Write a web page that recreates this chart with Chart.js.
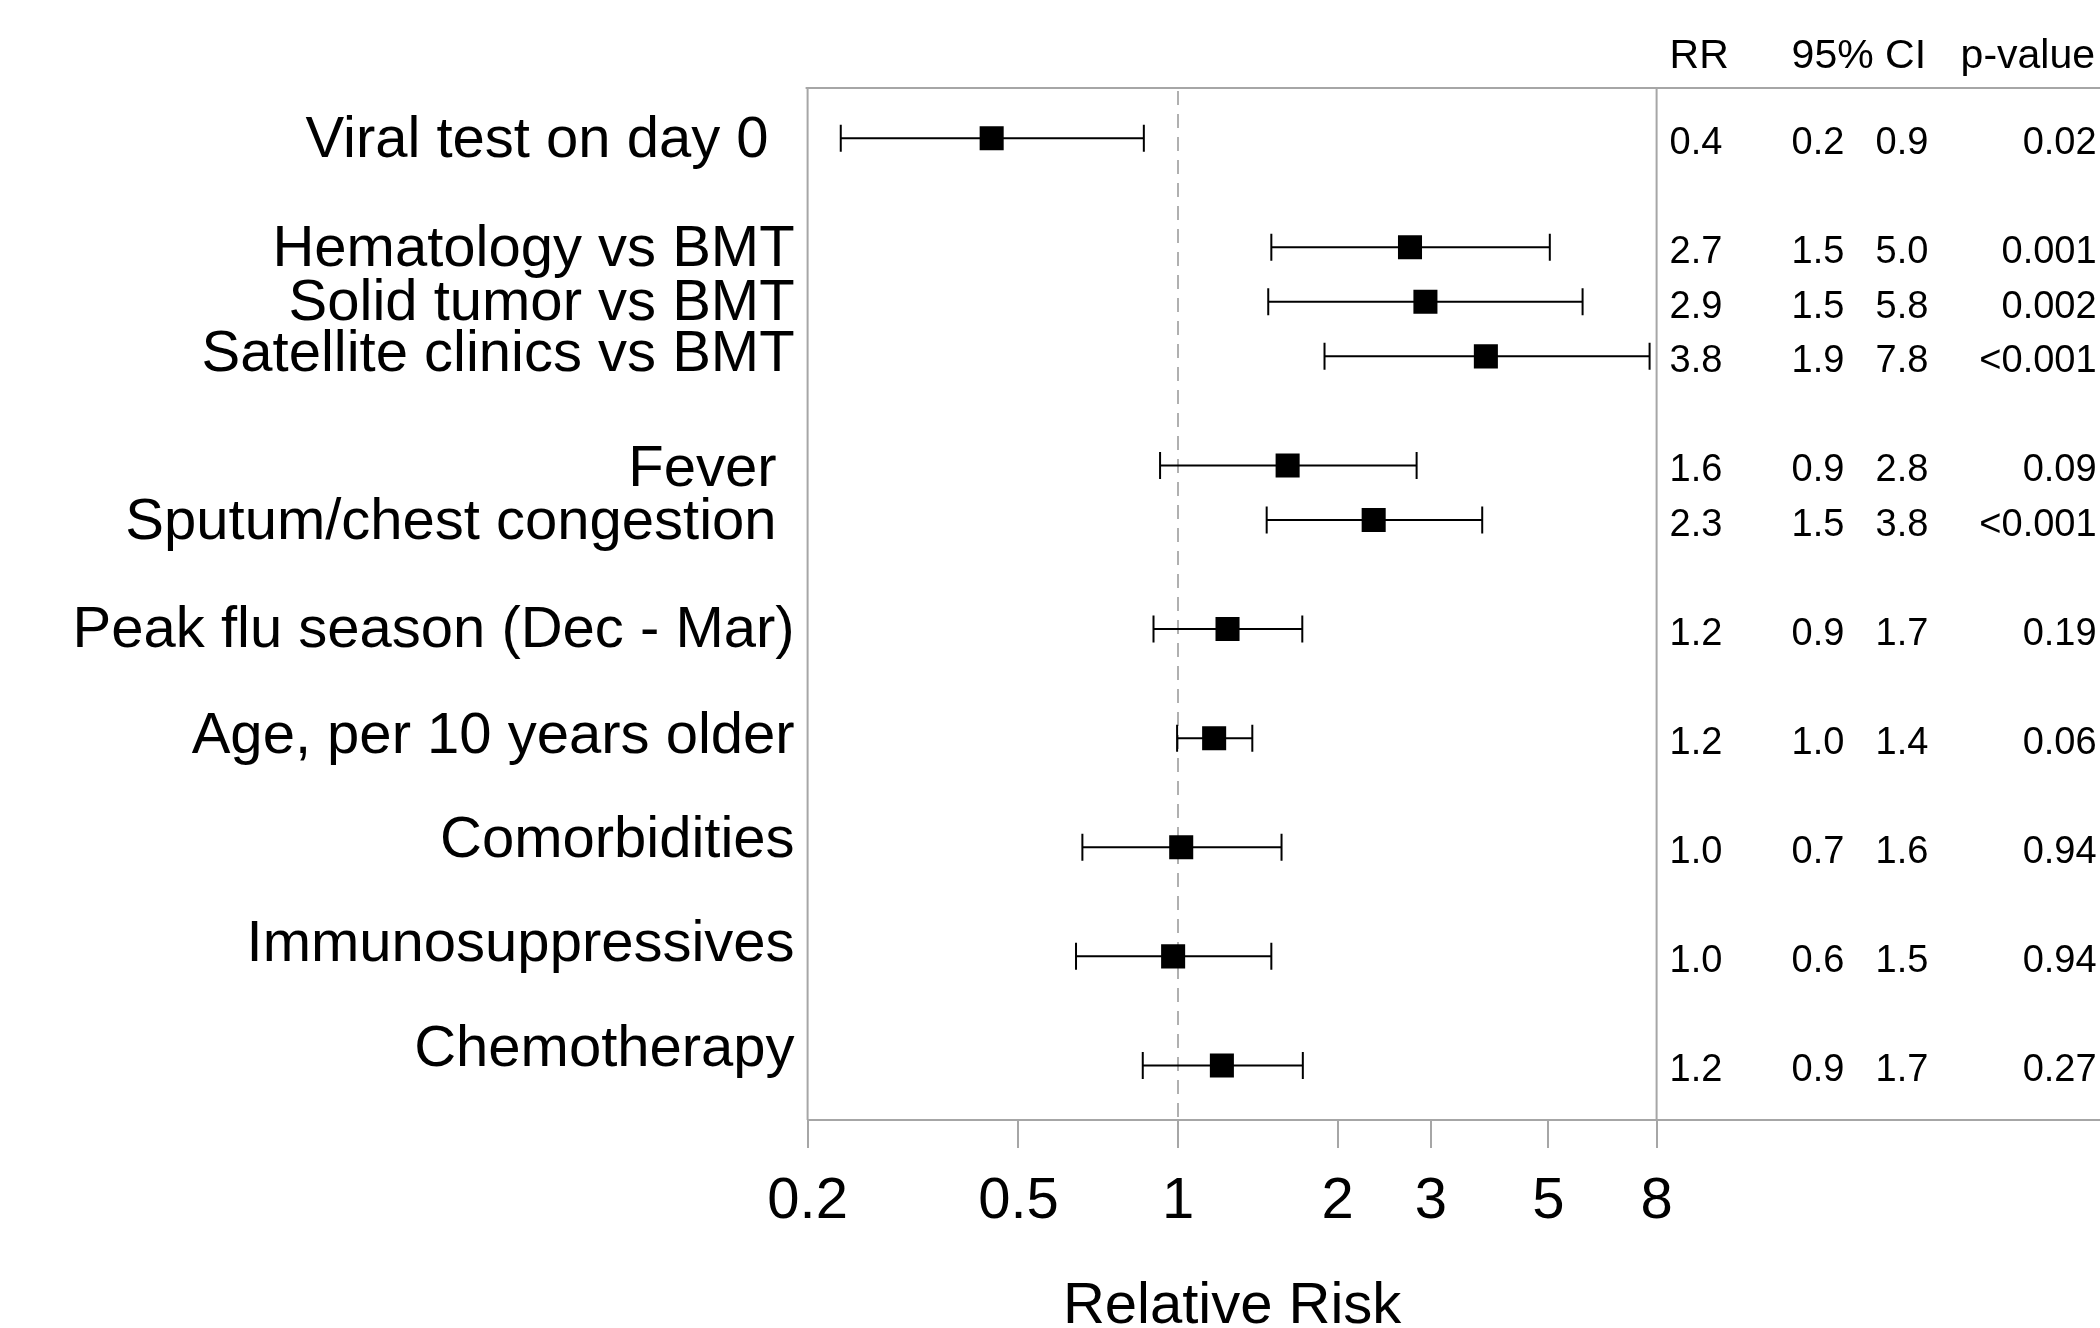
<!DOCTYPE html>
<html><head><meta charset="utf-8">
<script src="https://cdn.jsdelivr.net/npm/chart.js@4.4.1/dist/chart.umd.min.js"></script>
<style>html,body{margin:0;padding:0;background:#fff;}canvas{display:block;}</style>
</head><body>
<canvas id="c" width="2100" height="1328"></canvas>
<script>
// ---------- data ----------
const categories = ["Viral test on day 0", "Hematology vs BMT", "Solid tumor vs BMT", "Satellite clinics vs BMT",
  "Fever", "Sputum/chest congestion", "Peak flu season (Dec - Mar)", "Age, per 10 years older",
  "Comorbidities", "Immunosuppressives", "Chemotherapy"];
const rr     = [0.445, 2.74, 2.93, 3.81, 1.61, 2.34, 1.24, 1.17, 1.014, 0.979, 1.21];
const ciLow  = [0.231, 1.50, 1.48, 1.89, 0.925, 1.47, 0.899, 0.996, 0.660, 0.642, 0.858];
const ciHigh = [0.862, 5.03, 5.80, 7.76, 2.82, 3.75, 1.716, 1.381, 1.568, 1.50, 1.72];
const rrText     = ["0.4","2.7","2.9","3.8","1.6","2.3","1.2","1.2","1.0","1.0","1.2"];
const ciLowText  = ["0.2","1.5","1.5","1.9","0.9","1.5","0.9","1.0","0.7","0.6","0.9"];
const ciHighText = ["0.9","5.0","5.8","7.8","2.8","3.8","1.7","1.4","1.6","1.5","1.7"];
const pText      = ["0.02","0.001","0.002","<0.001","0.09","<0.001","0.19","0.06","0.94","0.94","0.27"];
const tableHeaders = ["RR","95% CI","p-value"];
const tickValues = [0.2, 0.5, 1, 2, 3, 5, 8];
const tickLabels = ["0.2","0.5","1","2","3","5","8"];
const refValue = 1;
const xTitle = "Relative Risk";

// ---------- layout ----------
const rowPos  = [0, 2, 3, 4, 6, 7, 9, 11, 13, 15, 17];
const labelDy = [-0.02, -0.02, -0.03, -0.09, 0.01, -0.01, -0.03, -0.10, -0.19, -0.28, -0.35];
const labelDx = [-26, 0, 0, 0, -18, -18, 0, 0, 0, 0, 0];
const FONT = "'Liberation Sans', Arial, Helvetica, sans-serif";
const GRAY = '#a6a6a6';

const datasets = [];
datasets.push({
  type: 'scatter', label: 'RR',
  data: rr.map((v, i) => ({x: v, y: rowPos[i]})),
  pointStyle: 'rect', pointRadius: 17, pointHoverRadius: 17,
  pointBackgroundColor: '#000', pointBorderWidth: 0, order: 0
});
datasets.push({
  type: 'scatter', label: 'caps',
  data: ciLow.map((v, i) => ({x: v, y: rowPos[i]})).concat(ciHigh.map((v, i) => ({x: v, y: rowPos[i]}))),
  pointStyle: 'line', pointRotation: 90, pointRadius: 13.5, pointHoverRadius: 13.5,
  pointBorderColor: '#000', pointBorderWidth: 2, order: 2
});
rowPos.forEach((r, i) => {
  datasets.push({
    type: 'scatter', label: 'ci' + i, showLine: true,
    data: [{x: ciLow[i], y: r}, {x: ciHigh[i], y: r}],
    borderColor: '#000', borderWidth: 2, pointRadius: 0, pointHoverRadius: 0, order: 1
  });
});

function seg(ctx, x1, y1, x2, y2) { ctx.beginPath(); ctx.moveTo(x1, y1); ctx.lineTo(x2, y2); ctx.stroke(); }

const overlay = {
  id: 'overlay',
  beforeDatasetsDraw(chart) {
    const {ctx, chartArea: a, scales: {x}} = chart;
    const xl = x.getPixelForValue(tickValues[0]);
    const xr = x.getPixelForValue(tickValues[tickValues.length - 1]);
    ctx.save();
    ctx.strokeStyle = GRAY; ctx.lineWidth = 2;
    seg(ctx, xl - 2, a.top, chart.width, a.top);
    seg(ctx, a.right, a.bottom, chart.width, a.bottom);
    seg(ctx, xl, a.top, xl, a.bottom);
    seg(ctx, xr, a.top, xr, a.bottom);
    ctx.setLineDash([14, 9]);
    ctx.strokeStyle = '#b0b0b0';
    const x1 = Math.round(x.getPixelForValue(refValue));
    seg(ctx, x1, a.top + 3, x1, a.bottom);
    ctx.restore();
  },
  afterDatasetsDraw(chart) {
    const {ctx, chartArea: a, scales: {y}} = chart;
    ctx.save();
    ctx.fillStyle = '#000';
    // left labels
    ctx.font = '58px ' + FONT;
    ctx.textAlign = 'right'; ctx.textBaseline = 'middle';
    categories.forEach((c, i) => {
      ctx.fillText(c, a.left - 13 + labelDx[i], y.getPixelForValue(rowPos[i] + labelDy[i]) + 4);
    });
    // table header
    ctx.font = '41px ' + FONT;
    ctx.textAlign = 'left';
    const hy = a.top - 31;
    ctx.fillText(tableHeaders[0], a.right + 13, hy);
    ctx.fillText(tableHeaders[1], a.right + 135, hy);
    ctx.fillText(tableHeaders[2], a.right + 304, hy);
    // table body
    ctx.font = '38px ' + FONT;
    rowPos.forEach((r, i) => {
      const py = y.getPixelForValue(r) + 5.5;
      ctx.textAlign = 'left';
      ctx.fillText(rrText[i], a.right + 13, py);
      ctx.fillText(ciLowText[i], a.right + 135, py);
      ctx.fillText(ciHighText[i], a.right + 219, py);
      ctx.textAlign = 'right';
      ctx.fillText(pText[i], a.right + 440, py);
    });
    ctx.restore();
  }
};

new Chart(document.getElementById('c'), {
  type: 'scatter',
  data: {datasets},
  options: {
    responsive: false, animation: false, devicePixelRatio: 1,
    layout: {padding: {left: 807.6, right: 443.4, top: 88, bottom: 0}},
    plugins: {legend: {display: false}, tooltip: {enabled: false}, title: {display: false}},
    scales: {
      x: {
        type: 'logarithmic', position: 'bottom', min: 0.2, max: 8,
        afterBuildTicks: s => { s.ticks = tickValues.map(v => ({value: v})); },
        afterFit: s => { s.height = 208; },
        ticks: {autoSkip: false, maxRotation: 0, minRotation: 0, padding: 19, color: '#000',
          font: {family: FONT, size: 58}, callback: (v, i) => tickLabels[i]},
        grid: {display: true, drawOnChartArea: false, drawTicks: true, tickLength: 28, color: GRAY, lineWidth: 2},
        border: {display: true, color: GRAY, width: 2},
        title: {display: true, text: xTitle, color: '#000', font: {family: FONT, size: 58, lineHeight: 0.8},
          padding: {top: 0, bottom: -2}}
      },
      y: {type: 'linear', min: -0.92, max: 18, reverse: true, display: false}
    }
  },
  plugins: [overlay]
});
</script>
</body></html>
